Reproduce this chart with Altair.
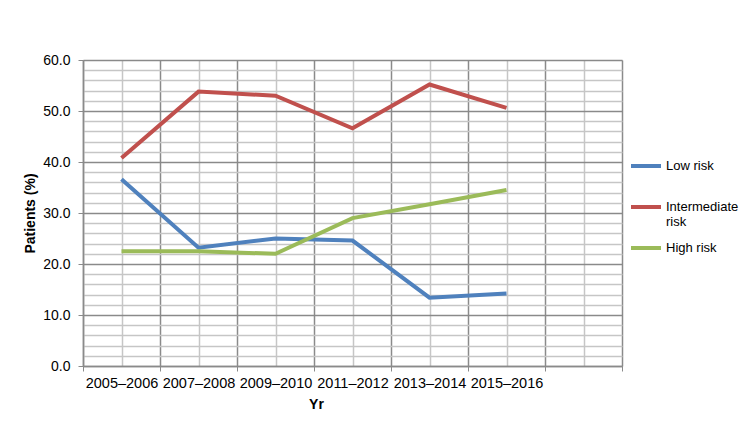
import altair as alt
import pandas as pd

categories = ["2005–2006", "2007–2008", "2009–2010", "2011–2012", "2013–2014", "2015–2016"]
series = ["Low risk", "Intermediate risk", "High risk"]
low_risk = [36.6, 23.2, 25.0, 24.6, 13.4, 14.2]
intermediate_risk = [40.8, 53.8, 53.0, 46.6, 55.2, 50.6]
high_risk = [22.5, 22.5, 22.0, 29.0, 31.7, 34.5]
colors = ["#4F81BD", "#C0504D", "#9BBB59"]
n_slots = 7  # one empty category slot on the right, as in the original

rows = []
for name, vals in zip(series, [low_risk, intermediate_risk, high_risk]):
    for i, (c, v) in enumerate(zip(categories, vals)):
        rows.append({"period": c, "pos": i + 0.5, "series": name, "value": v})
df = pd.DataFrame(rows)

cat_js = "[" + ",".join("'" + c + "'" for c in categories) + "]"
x_values = [i / 2 for i in range(0, 2 * n_slots + 1)]
y_values = list(range(0, 61, 2))

FONT = "Liberation Sans"
MAJOR = "#8a8a8a"
MINOR = "#c6c6c6"

x_axis = alt.Axis(
    values=x_values,
    labelExpr=f"(datum.value % 1 != 0 && floor(datum.value) < {len(categories)}) ? {cat_js}[floor(datum.value)] : ''",
    labelOverlap=False,
    labelFlush=False,
    labelFont=FONT,
    labelFontSize=14.5,
    labelColor="#000000",
    labelPadding=5,
    labelBaseline="top",
    tickSize=5,
    tickColor={"condition": {"test": "datum.value % 1 == 0", "value": MAJOR}, "value": "transparent"},
    gridColor={"condition": {"test": "datum.value % 1 == 0", "value": MAJOR}, "value": MINOR},
    gridWidth=1.5,
    domainColor=MAJOR,
    domainWidth=1.5,
    title="Yr",
    titleFont=FONT,
    titleFontSize=14,
    titleFontWeight="bold",
    titleColor="#000000",
    titleX=233,
    titleY=38,
    titleAlign="center",
    titleBaseline="middle",
)

y_axis = alt.Axis(
    values=y_values,
    labelExpr="datum.value % 10 == 0 ? format(datum.value, '.1f') : ''",
    labelFont=FONT,
    labelFontSize=14,
    labelColor="#000000",
    labelPadding=8,
    tickSize=5,
    tickColor={"condition": {"test": "datum.value % 10 == 0", "value": MAJOR}, "value": "transparent"},
    gridColor={"condition": {"test": "datum.value % 10 == 0", "value": MAJOR}, "value": MINOR},
    gridWidth=1.5,
    domainColor=MAJOR,
    domainWidth=1.5,
    title="Patients (%)",
    titleFont=FONT,
    titleFontSize=14,
    titleFontWeight="bold",
    titleColor="#000000",
    titleX=-53,
    titleAlign="center",
    titleBaseline="middle",
)

chart = (
    alt.Chart(df)
    .mark_line(strokeWidth=4, strokeCap="butt", strokeJoin="miter")
    .encode(
        x=alt.X("pos:Q", scale=alt.Scale(domain=[0, n_slots], nice=False, zero=False), axis=x_axis),
        y=alt.Y("value:Q", scale=alt.Scale(domain=[0, 60], nice=False), axis=y_axis),
        color=alt.Color(
            "series:N",
            scale=alt.Scale(domain=series, range=colors),
            legend=alt.Legend(
                title=None,
                orient="none",
                legendX=546,
                legendY=89,
                symbolType="stroke",
                symbolStrokeWidth=4,
                symbolSize=900,
                labelFont=FONT,
                labelFontSize=13,
                labelColor="#000000",
                labelOffset=3,
                rowPadding=2,
                labelExpr="datum.label == 'Intermediate risk' ? ['Intermediate', 'risk'] : [datum.label, '']",
            ),
        ),
        order=alt.Order("pos:Q"),
    )
    .properties(
        width=539,
        height=306,
        autosize=alt.AutoSizeParams(type="none"),
        padding={"left": 75, "top": 52, "right": 118, "bottom": 47},
    )
    .configure_view(stroke=None)
    .configure(background="white")
)

chart.save("out.html", embed_options={"renderer": "svg", "actions": False})
